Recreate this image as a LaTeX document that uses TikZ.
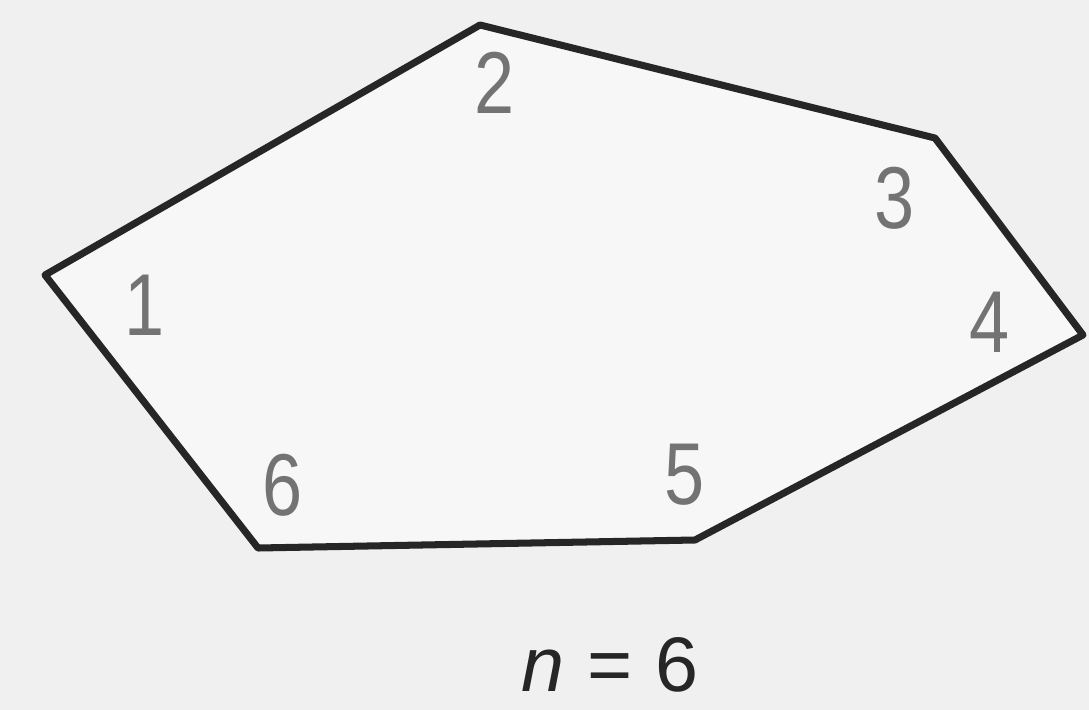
\documentclass[tikz,border=0pt]{standalone}
\usepackage{fontspec}
\setmainfont{Liberation Sans}
\begin{document}
\begin{tikzpicture}[x=0.02cm,y=-0.02cm,
  edge/.style={line width=4pt,line join=round,color=black!85},
  vlabel/.style={text=black!55,font=\fontsize{50}{54}\selectfont,inner sep=0pt,xscale=0.82},
  caption/.style={text=black!85,font=\fontsize{44}{50}\selectfont,inner sep=0pt}]
\fill[black!6] (0,0) rectangle (1089,710);
\useasboundingbox (0,0) rectangle (1089,710);
\coordinate (v1) at (45,275);
\coordinate (v2) at (480,25);
\coordinate (v3) at (935,138);
\coordinate (v4) at (1083,335);
\coordinate (v5) at (695,540);
\coordinate (v6) at (258,548);
\fill[black!3] (v1) -- (v2) -- (v3) -- (v4) -- (v5) -- (v6) -- cycle;
\draw[edge] (v1) -- (v2) -- (v3) -- (v4) -- (v5) -- (v6) -- cycle;
\node[vlabel] (l1) at (145,305) {1};
\node[vlabel] (l2) at (495,83) {2};
\node[vlabel] (l3) at (895,198) {3};
\node[vlabel] (l4) at (990,322) {4};
\node[vlabel] (l5) at (685,475) {5};
\node[vlabel] (l6) at (283,485) {6};
\node[caption] (cap) at (610,665) {\textit{n}\hspace{0.3em}=\hspace{0.3em}6};
\end{tikzpicture}
\end{document}
